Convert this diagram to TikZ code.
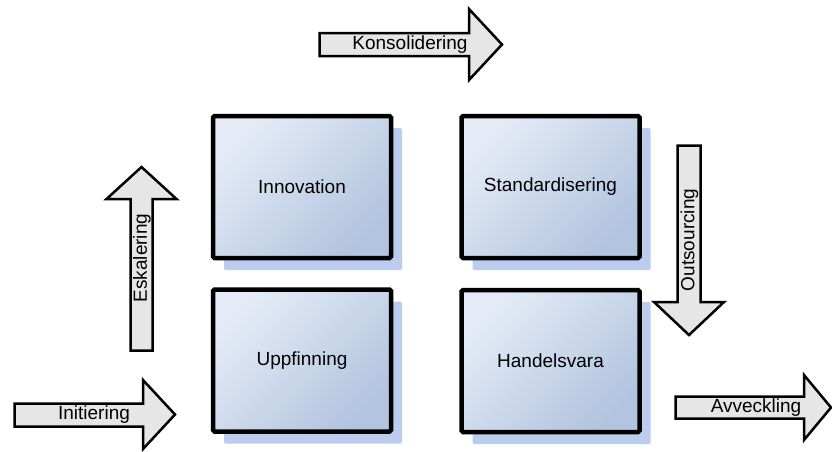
\documentclass[tikz,border=0pt]{standalone}
\usepackage{fontspec}
\setmainfont{Liberation Sans}
\usetikzlibrary{shadows}
\definecolor{boxlight}{RGB}{228,235,246}
\definecolor{boxdark}{RGB}{178,196,223}
\definecolor{shadowblue}{RGB}{188,204,238}
\definecolor{arrowfill}{RGB}{230,230,230}
\tikzset{
  stagebox/.style={draw=black, line width=4.5pt, rounded corners=1.5pt,
    minimum width=178pt, minimum height=142pt, inner sep=0pt,
    top color=boxlight, bottom color=boxdark, shading angle=45,
    drop shadow={shadow xshift=11pt, shadow yshift=-12pt, fill=shadowblue, opacity=1},
    font=\fontsize{19}{22}\selectfont},
  arrowshape/.style={draw=black, line width=2.5pt, fill=arrowfill, line join=miter},
  lbl/.style={font=\fontsize{19}{22}\selectfont, inner sep=0pt, text=black},
}
\begin{document}
\begin{tikzpicture}[x=1pt,y=-1pt]
\useasboundingbox (0,0) rectangle (832,451);

% stage boxes
\node[stagebox] (innov) at (302,187) {Innovation};
\node[stagebox] (stand) at (550.5,187) {Standardisering};
\node[stagebox] (uppf)  at (302,360.5) {Uppfinning};
\node[stagebox] (handel) at (550.5,361) {Handelsvara};

% Konsolidering (right)
\draw[arrowshape] (319.5,33) -- (469,33) -- (469,9) -- (502,44.5) -- (469,80) -- (469,56) -- (319.5,56) -- cycle;
\node[lbl] (kons) at (410,44.5) {Konsolidering};

% Initiering (right)
\draw[arrowshape] (14.5,403.5) -- (143,403.5) -- (143,380) -- (175,414.5) -- (143,449) -- (143,426.5) -- (14.5,426.5) -- cycle;
\node[lbl] (init) at (94,415) {Initiering};

% Avveckling (right)
\draw[arrowshape] (675.5,396.5) -- (804,396.5) -- (804,375) -- (831,407.5) -- (804,440) -- (804,418.5) -- (675.5,418.5) -- cycle;
\node[lbl] (avv) at (756,408) {Avveckling};

% Outsourcing (down)
\draw[arrowshape] (677.5,145.5) -- (700.5,145.5) -- (700.5,302) -- (724,302) -- (689,335) -- (654,302) -- (677.5,302) -- cycle;
\node[lbl, rotate=90] (outs) at (689.5,240) {Outsourcing};

% Eskalering (up)
\draw[arrowshape] (130.5,350.5) -- (152.5,350.5) -- (152.5,199) -- (176.5,199) -- (141.5,167) -- (106.5,199) -- (130.5,199) -- cycle;
\node[lbl, rotate=90] (eska) at (142,258) {Eskalering};
\end{tikzpicture}
\end{document}
